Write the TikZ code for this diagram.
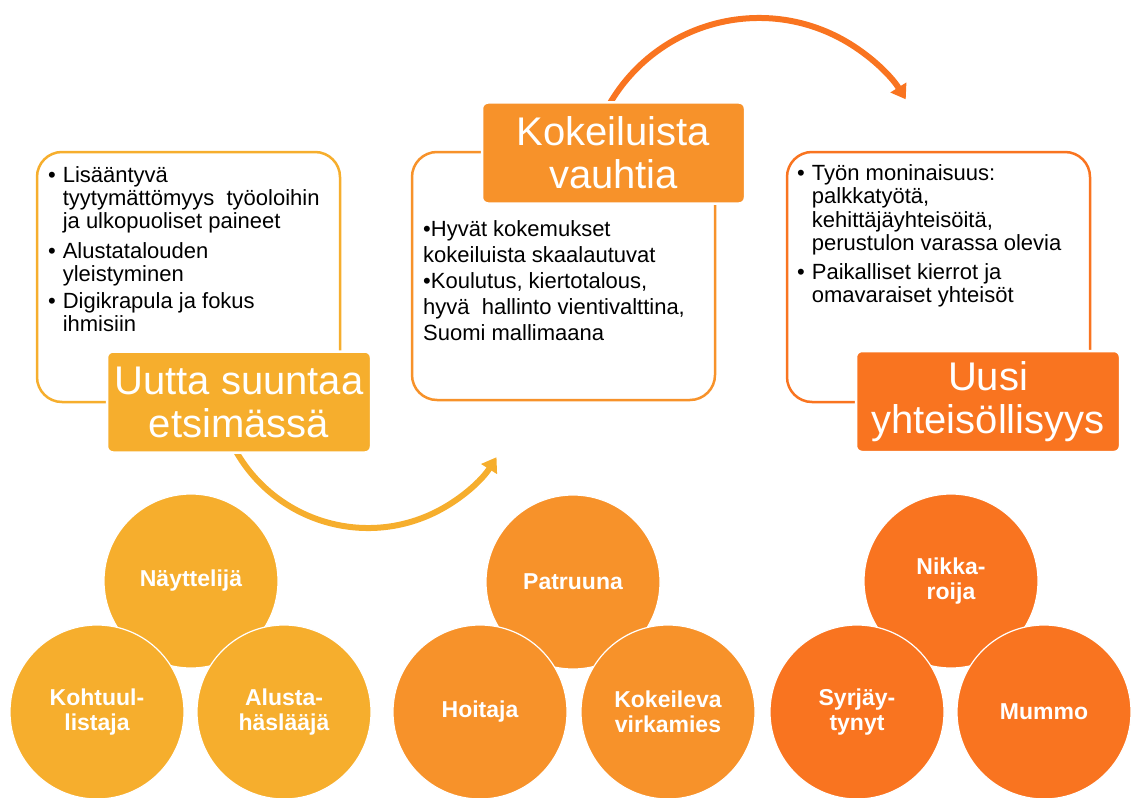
\documentclass[tikz,border=0pt]{standalone}
\usepackage{fontspec}
\setmainfont{Liberation Sans}
\usetikzlibrary{arrows.meta}
\definecolor{cyel}{HTML}{F6AE2D}
\definecolor{corg}{HTML}{F7922A}
\definecolor{cred}{HTML}{F97420}
\begin{document}
\begin{tikzpicture}[x=1pt,y=1pt,
 lightbox/.style={draw, line width=2.5pt, rounded corners=25pt, fill=white, minimum width=303pt, minimum height=250pt, inner sep=0pt},
 titlebox/.style={draw=white, line width=2.5pt, rounded corners=6pt, text=white, font=\fontsize{40}{43}\selectfont, align=center, minimum width=264pt, minimum height=101pt, inner sep=0pt},
 role/.style={circle, draw=white, line width=1.2pt, minimum size=174pt, inner sep=0pt, text=white, font=\bfseries\fontsize{23}{25}\selectfont, align=center},
 bodytext/.style={anchor=base west, inner sep=0pt, font=\fontsize{22}{23}\selectfont},
 bigarrow/.style={line width=6pt, -{Triangle[width=18pt,length=14pt]}}]
\useasboundingbox (0,0) rectangle (1131,-797);

% arrows
\coordinate (a1s) at (232.6,-445.0);
\coordinate (a2s) at (609.2,-104.5);
\draw[bigarrow, cyel] (a1s) arc[start angle=207, end angle=327.7, radius=152];
\draw[bigarrow, cred] (a2s) arc[start angle=150, end angle=32, radius=173];

% light boxes
\node[lightbox, draw=cyel] (b1) at (188.5,-277) {};
\node[lightbox, draw=corg, minimum height=248pt] (b2) at (563.5,-276) {};
\node[lightbox, draw=cred] (b3) at (938.5,-277) {};

% body texts
\node[bodytext] (tx1) at (47.9,-182.7) {\begin{tabular}[t]{@{}l@{\hspace{7pt}}l@{}}
\textbullet & Lisääntyvä\\
 & tyytymättömyys\ \ työoloihin\\
 & ja ulkopuoliset paineet\\[7pt]
\textbullet & Alustatalouden\\
 & yleistyminen\\[4pt]
\textbullet & Digikrapula ja fokus\\
 & ihmisiin
\end{tabular}};
\node[bodytext, font=\fontsize{22}{26}\selectfont] (tx2) at (423,-236.7) {\begin{tabular}[t]{@{}l@{}}
\textbullet Hyvät\ kokemukset\\
kokeiluista skaalautuvat\\
\textbullet Koulutus,\ kiertotalous,\\
hyvä\ \ hallinto vientivalttina,\\
Suomi mallimaana
\end{tabular}};
\node[bodytext, font=\fontsize{22}{23.5}\selectfont] (tx3) at (797,-180) {\begin{tabular}[t]{@{}l@{\hspace{7pt}}l@{}}
\textbullet & Työn moninaisuus:\\
 & palkkatyötä,\\
 & kehittäjäyhteisöitä,\\
 & perustulon varassa olevia\\[5pt]
\textbullet & Paikalliset kierrot ja\\
 & omavaraiset yhteisöt
\end{tabular}};

% title boxes
\node[titlebox, fill=cyel] (t1) at (239,-402) {Uutta suuntaa\\etsimässä};
\node[titlebox, fill=corg, minimum width=263pt] (t2) at (613.5,-153) {Kokeiluista\\vauhtia};
\node[titlebox, fill=cred] (t3) at (988,-401.5) {Uusi\\yhteisöllisyys};

% role circles
\node[role, fill=cyel] (c1a) at (191,-581) {Näyttelijä};
\node[role, fill=cyel] (c1b) at (97,-712) {Kohtuul-\\listaja};
\node[role, fill=cyel] (c1c) at (284,-712) {Alusta-\\häslääjä};

\node[role, fill=corg] (c2a) at (573,-582) {Patruuna};
\node[role, fill=corg] (c2b) at (480,-712) {Hoitaja};
\node[role, fill=corg] (c2c) at (668,-712) {Kokeileva\\virkamies};

\node[role, fill=cred] (c3a) at (951,-581) {Nikka-\\roija};
\node[role, fill=cred] (c3b) at (857,-712) {Syrjäy-\\tynyt};
\node[role, fill=cred] (c3c) at (1044,-712) {Mummo};
\end{tikzpicture}
\end{document}
